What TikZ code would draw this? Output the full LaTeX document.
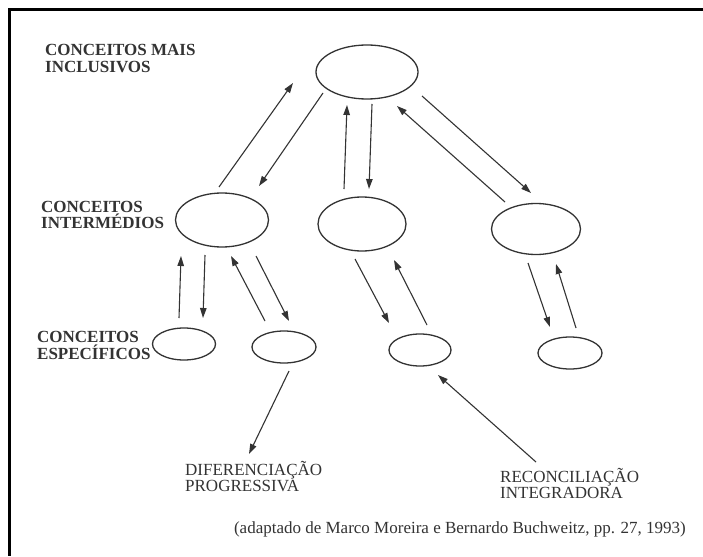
\documentclass[tikz,border=0pt]{standalone}
\usepackage{fontspec}
\setmainfont{Liberation Serif}
\usetikzlibrary{shapes.geometric,arrows.meta}
\definecolor{ink}{HTML}{333333}
\begin{document}
\begin{tikzpicture}[x=1pt,y=-1pt,
  oval/.style={ellipse,draw=ink,line width=1.3pt,inner sep=0pt,outer sep=0pt},
  arr/.style={draw=ink,line width=1.1pt,-{Triangle[length=10pt,width=6.5pt]}},
  lvl/.style={font=\fontsize{17}{16.5}\selectfont\bfseries,text=ink,align=left,inner sep=0pt,anchor=base west},
  lab/.style={font=\fontsize{17}{16}\selectfont,text=ink,align=left,inner sep=0pt,anchor=base west}]
\useasboundingbox (0,0) rectangle (703,556);
\fill[white] (0,0) rectangle (703,556);
\draw[line width=3pt,black] (703,10) -- (9.5,10) -- (9.5,556);

% ellipses
\node[oval,minimum width=102pt,minimum height=54pt] (top) at (367,72) {};
\node[oval,minimum width=93pt,minimum height=54pt] (il) at (222,220) {};
\node[oval,minimum width=88pt,minimum height=54pt] (im) at (362,224) {};
\node[oval,minimum width=89pt,minimum height=51pt] (ir) at (536,229) {};
\node[oval,minimum width=63pt,minimum height=32pt] (s1) at (184,344) {};
\node[oval,minimum width=64pt,minimum height=32pt] (s2) at (284,347) {};
\node[oval,minimum width=62pt,minimum height=32pt] (s3) at (420,350) {};
\node[oval,minimum width=64pt,minimum height=32pt] (s4) at (570,353) {};

% labels (anchored at the baseline of their last line)
\node[lvl] (l1) at (45,72.5) {CONCEITOS MAIS\\INCLUSIVOS};
\node[lvl] (l2) at (41,228.5) {CONCEITOS\\INTERMÉDIOS};
\node[lvl] (l3) at (37,359) {CONCEITOS\\ESPECÍFICOS};
\node[lab] (dif) at (185,491) {DIFERENCIAÇÃO\\PROGRESSIVA};
\node[lab] (rec) at (500,498.5) {RECONCILIAÇÃO\\INTEGRADORA};
\node[font=\fontsize{17}{17}\selectfont,text=ink,inner sep=0pt,anchor=base east] (cite) at (686,533)
  {(adaptado de Marco Moreira e Bernardo Buchweitz, pp. 27, 1993)};

% arrow end points
\coordinate (aA1) at (219,187); \coordinate (aA2) at (293,83);
\coordinate (aB1) at (323,93);  \coordinate (aB2) at (259,186);
\coordinate (aC1) at (344,189); \coordinate (aC2) at (347,105);
\coordinate (aD1) at (372,104); \coordinate (aD2) at (369,189);
\coordinate (aE1) at (505,202); \coordinate (aE2) at (397,106);
\coordinate (aF1) at (422,96);  \coordinate (aF2) at (531,193);
\coordinate (aG1) at (179,318); \coordinate (aG2) at (181,256);
\coordinate (aH1) at (205,255); \coordinate (aH2) at (203,318);
\coordinate (aI1) at (265,321); \coordinate (aI2) at (231,256);
\coordinate (aJ1) at (256,256); \coordinate (aJ2) at (289,321);
\coordinate (aK1) at (355,259); \coordinate (aK2) at (389,323);
\coordinate (aL1) at (427,325); \coordinate (aL2) at (394,260);
\coordinate (aM1) at (528,263); \coordinate (aM2) at (550,327);
\coordinate (aN1) at (576,328); \coordinate (aN2) at (556,264);
\coordinate (aP1) at (289,371); \coordinate (aP2) at (249,454);
\coordinate (aQ1) at (536,462); \coordinate (aQ2) at (438,375);

\foreach \a in {A,B,C,D,E,F,G,H,I,J,K,L,M,N,P,Q}
  \draw[arr] (a\a1) -- (a\a2);
\end{tikzpicture}
\end{document}
